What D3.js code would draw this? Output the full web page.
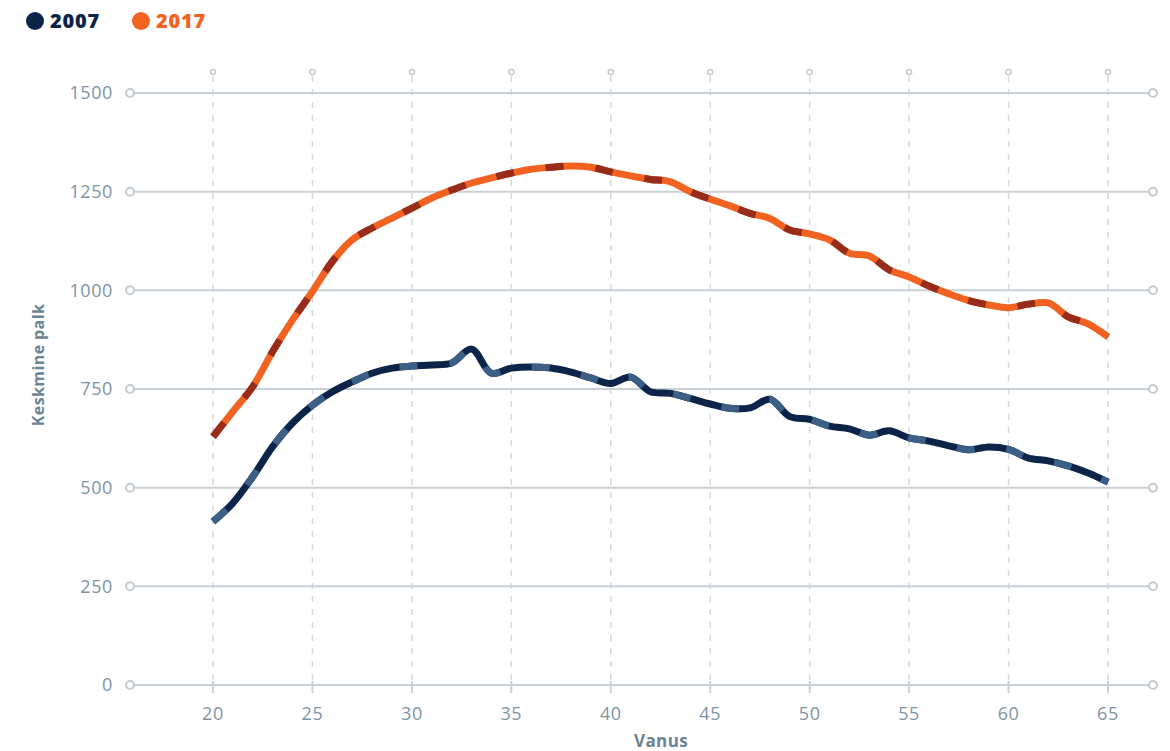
<!DOCTYPE html>
<meta charset="utf-8">
<style>
    body { margin: 0; background: #fff; }
    text { font-family: "Open Sans", sans-serif; }
    .grid line { stroke: #c9d1d7; stroke-width: 2px; }
    .vgrid line { stroke: #d3d9de; stroke-width: 1.5px; stroke-dasharray: 6,7; }
    .tick-label { fill: #7f94a3; font-size: 18px; letter-spacing: 0.6px; }
</style>

<svg width="1170" height="751"></svg>

<script src="https://cdn.jsdelivr.net/npm/d3@7"></script>
<script>
    // andmed
    var ages = d3.range(20, 66);
    var wage2007 = [414, 461, 528, 604, 664, 709, 743, 768, 790, 803,
        808, 811, 816, 851, 790, 803, 806, 803, 793, 778,
        764, 780, 743, 739, 726, 712, 701, 702, 724, 680,
        673, 656, 649, 633, 644, 626, 618, 606, 596, 603,
        597, 575, 568, 555, 537, 514];
    var wage2017 = [629, 693, 756, 845, 925, 997, 1073, 1128, 1158, 1183,
        1208, 1234, 1254, 1272, 1285, 1297, 1307, 1312, 1315, 1312,
        1300, 1290, 1281, 1275, 1250, 1231, 1214, 1195, 1182, 1153,
        1143, 1128, 1094, 1087, 1052, 1034, 1011, 991, 974, 963,
        956, 965, 968, 933, 915, 882];
    var yTicks = [0, 250, 500, 750, 1000, 1250, 1500];
    var xTicks = [20, 25, 30, 35, 40, 45, 50, 55, 60, 65];

    var series = [
        {name: "2007", values: wage2007, base: "#0b2447", dash: "#3b5f85"},
        {name: "2017", values: wage2017, base: "#f26322", dash: "#962c19"}
    ];

    (function () {
        var svg = d3.select("svg"),
            gLeft = 130, gRight = 1153, gTop = 93, gBottom = 685;

        var x = d3.scaleLinear().domain([20, 65]).range([213, 1108]);
        var y = d3.scaleLinear().domain([0, 1500]).range([gBottom, gTop]);

        // vertikaalsed katkendjooned
        svg.append("g").attr("class", "vgrid")
            .selectAll("line").data(xTicks).enter().append("line")
            .attr("x1", function (d) { return x(d); })
            .attr("x2", function (d) { return x(d); })
            .attr("y1", 76)
            .attr("y2", gBottom);
        svg.append("g").selectAll("circle").data(xTicks).enter().append("circle")
            .attr("cx", function (d) { return x(d); })
            .attr("cy", 72)
            .attr("r", 2.6)
            .attr("fill", "#fff")
            .attr("stroke", "#c3ccd2")
            .attr("stroke-width", 1.5);
        svg.append("g").selectAll("line").data(xTicks).enter().append("line")
            .attr("x1", function (d) { return x(d); })
            .attr("x2", function (d) { return x(d); })
            .attr("y1", gBottom - 4)
            .attr("y2", gBottom + 8)
            .attr("stroke", "#c9d1d7")
            .attr("stroke-width", 2);

        // horisontaalsed jooned
        var hg = svg.append("g").attr("class", "grid");
        hg.selectAll("line").data(yTicks).enter().append("line")
            .attr("x1", gLeft + 4)
            .attr("x2", gRight - 4)
            .attr("y1", function (d) { return y(d); })
            .attr("y2", function (d) { return y(d); });
        [gLeft, gRight].forEach(function (cx) {
            hg.append("g").selectAll("circle").data(yTicks).enter().append("circle")
                .attr("cx", cx)
                .attr("cy", function (d) { return y(d); })
                .attr("r", 4)
                .attr("fill", "#fff")
                .attr("stroke", "#c3ccd2")
                .attr("stroke-width", 2);
        });

        // telgede sildid
        svg.append("g").selectAll("text").data(yTicks).enter().append("text")
            .attr("class", "tick-label")
            .attr("x", 113)
            .attr("y", function (d) { return y(d); })
            .attr("dy", "0.35em")
            .attr("text-anchor", "end")
            .text(function (d) { return d; });
        svg.append("g").selectAll("text").data(xTicks).enter().append("text")
            .attr("class", "tick-label")
            .attr("x", function (d) { return x(d); })
            .attr("y", 720)
            .attr("text-anchor", "middle")
            .text(function (d) { return d; });

        svg.append("text")
            .attr("transform", "translate(44,365) rotate(-90)")
            .attr("text-anchor", "middle")
            .attr("fill", "#6c8393")
            .attr("font-size", 16)
            .attr("font-weight", "bold")
            .attr("letter-spacing", 0.4)
            .text("Keskmine palk");
        svg.append("text")
            .attr("x", 661)
            .attr("y", 747)
            .attr("text-anchor", "middle")
            .attr("fill", "#6c8393")
            .attr("font-size", 17)
            .attr("font-weight", "bold")
            .attr("letter-spacing", 0.4)
            .text("Vanus");

        // jooned
        var line = d3.line()
            .x(function (d, i) { return x(ages[i]); })
            .y(function (d) { return y(d); })
            .curve(d3.curveCatmullRom.alpha(0.5));

        series.forEach(function (s) {
            svg.append("path")
                .attr("d", line(s.values))
                .attr("fill", "none")
                .attr("stroke", s.base)
                .attr("stroke-width", 7);
            svg.append("path")
                .attr("d", line(s.values))
                .attr("fill", "none")
                .attr("stroke", s.dash)
                .attr("stroke-width", 7)
                .attr("stroke-dasharray", "18,32");
        });

        // legend
        var leg = svg.append("g").selectAll("g").data(series).enter().append("g")
            .attr("transform", function (d, i) { return "translate(" + (35 + i * 106) + ",21)"; });
        leg.append("circle")
            .attr("r", 9)
            .attr("fill", function (d) { return d.base; });
        leg.append("text")
            .attr("x", 15)
            .attr("dy", "0.35em")
            .attr("font-size", 20)
            .attr("font-weight", 800)
            .attr("letter-spacing", 0.8)
            .attr("fill", function (d) { return d.base; })
            .text(function (d) { return d.name; });
    })();
</script>
